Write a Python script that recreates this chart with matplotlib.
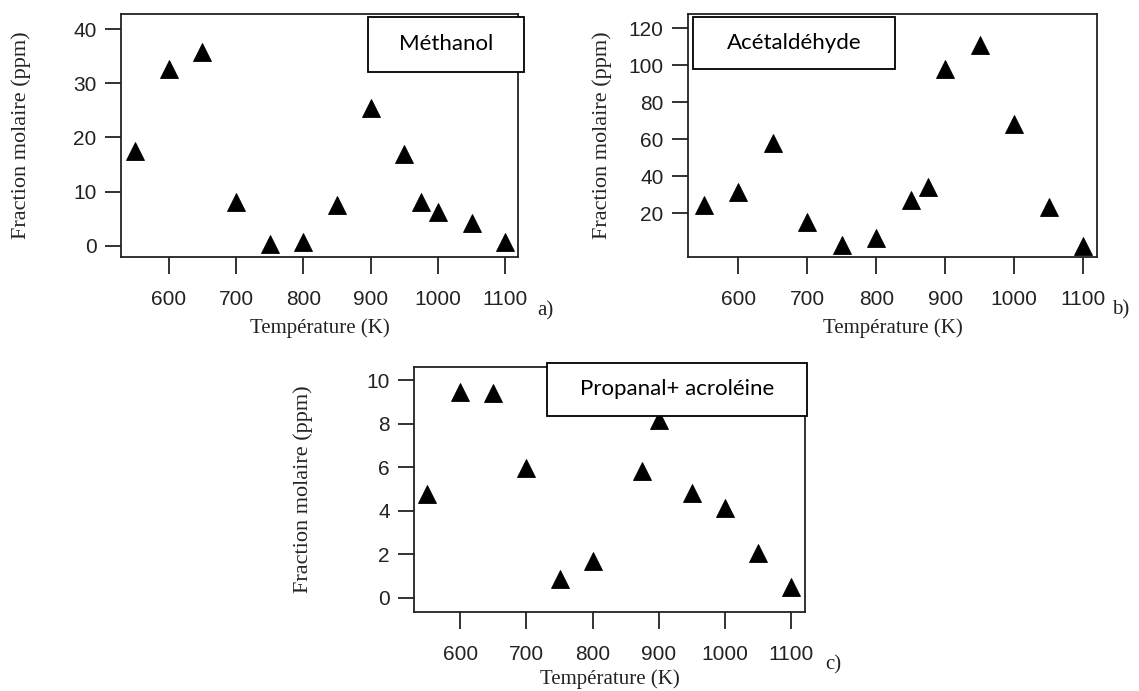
import matplotlib
matplotlib.use('Agg')
import matplotlib.pyplot as plt
from matplotlib.patches import Rectangle

# Mole fractions (ppm) versus temperature (K)
temp_methanol = [550, 600, 650, 700, 750, 800, 850, 900, 950, 975, 1000, 1050, 1100]
ppm_methanol = [17.5, 32.7, 35.8, 8.1, 0.3, 0.7, 7.5, 25.5, 16.9, 8.1, 6.2, 4.1, 0.7]

temp_acetaldehyde = [550, 600, 650, 700, 750, 800, 850, 875, 900, 950, 1000, 1050, 1100]
ppm_acetaldehyde = [24.5, 31.7, 57.8, 15.5, 2.9, 6.5, 27.2, 34.0, 97.8, 111.0, 68.3, 23.6, 2.3]

temp_propanal = [550, 600, 650, 700, 750, 800, 875, 900, 950, 1000, 1050, 1100]
ppm_propanal = [4.75, 9.43, 9.39, 5.98, 0.86, 1.67, 5.82, 8.17, 4.82, 4.13, 2.06, 0.52]

x_ticks = [600, 700, 800, 900, 1000, 1100]
names = ['Méthanol', 'Acétaldéhyde', 'Propanal+ acroléine']
letters = ['a)', 'b)', 'c)']

W, H = 1139, 691
fig = plt.figure(figsize=(W / 100, H / 100), dpi=100)
fig.patch.set_facecolor('white')


def px_box(left, top, right, bottom):
    # pixel rectangle -> figure fraction [x0, y0, w, h]
    return [left / W, 1 - bottom / H, (right - left) / W, (bottom - top) / H]


def make_panel(rect, temps, vals, xlim, ylim, yticks, ylab_x, xlab_y):
    ax = fig.add_axes(px_box(*rect))
    ax.plot(temps, vals, linestyle='none', marker='^', color='black',
            markersize=12.5, markeredgewidth=0.6)
    ax.set_xlim(*xlim)
    ax.set_ylim(*ylim)
    ax.set_xticks(x_ticks)
    ax.set_yticks(yticks)
    for s in ax.spines.values():
        s.set_linewidth(1.3)
        s.set_color('#222222')
    ax.tick_params(axis='both', direction='out', width=1.3, color='#222222',
                   labelcolor='#222222', labelsize=15)
    ax.tick_params(axis='y', length=11.5, pad=6)
    ax.tick_params(axis='x', length=12, pad=12)
    for lab in ax.get_xticklabels() + ax.get_yticklabels():
        lab.set_fontfamily('Liberation Sans')
    ax.set_ylabel('Fraction molaire (ppm)', family='Liberation Serif',
                  fontsize=16, color='#222222')
    ax.set_xlabel('Température (K)', family='Liberation Serif',
                  fontsize=15, color='#222222')
    ax.yaxis.set_label_coords(ylab_x, 0.5)
    ax.xaxis.set_label_coords(0.5, xlab_y)
    ax.xaxis.label.set_va('center')
    ax.yaxis.label.set_va('center')
    return ax


make_panel((121, 14, 518, 257), temp_methanol, ppm_methanol,
           (529, 1119), (-2.1, 42.8), [0, 10, 20, 30, 40], -0.252, -0.292)
make_panel((688, 14, 1097, 257), temp_acetaldehyde, ppm_acetaldehyde,
           (527, 1120), (-3.6, 127.7), [20, 40, 60, 80, 100, 120], -0.210, -0.292)
make_panel((414, 367, 805, 612), temp_propanal, ppm_propanal,
           (530, 1121), (-0.65, 10.6), [0, 2, 4, 6, 8, 10], -0.284, -0.275)

# labelled boxes naming each species
boxes = [(368, 17, 524, 72), (693, 17, 895, 69), (547, 363, 807, 416)]
for (l, t, r, b), name in zip(boxes, names):
    fig.patches.append(Rectangle((l / W, 1 - b / H), (r - l) / W, (b - t) / H,
                                 transform=fig.transFigure, facecolor='white',
                                 edgecolor='black', linewidth=1.3, zorder=5))
    fig.text((l + r) / 2 / W, 1 - (t + b) / 2 / H, name, family='Lato',
             fontsize=16, ha='center', va='center', zorder=6)

# panel letters
for (x, y), letter in zip([(545, 311), (1121, 310), (833, 665)], letters):
    fig.text(x / W, 1 - y / H, letter, family='Liberation Serif', fontsize=15,
             ha='center', va='center', color='#222222')

fig.savefig('out.png', dpi=100)
